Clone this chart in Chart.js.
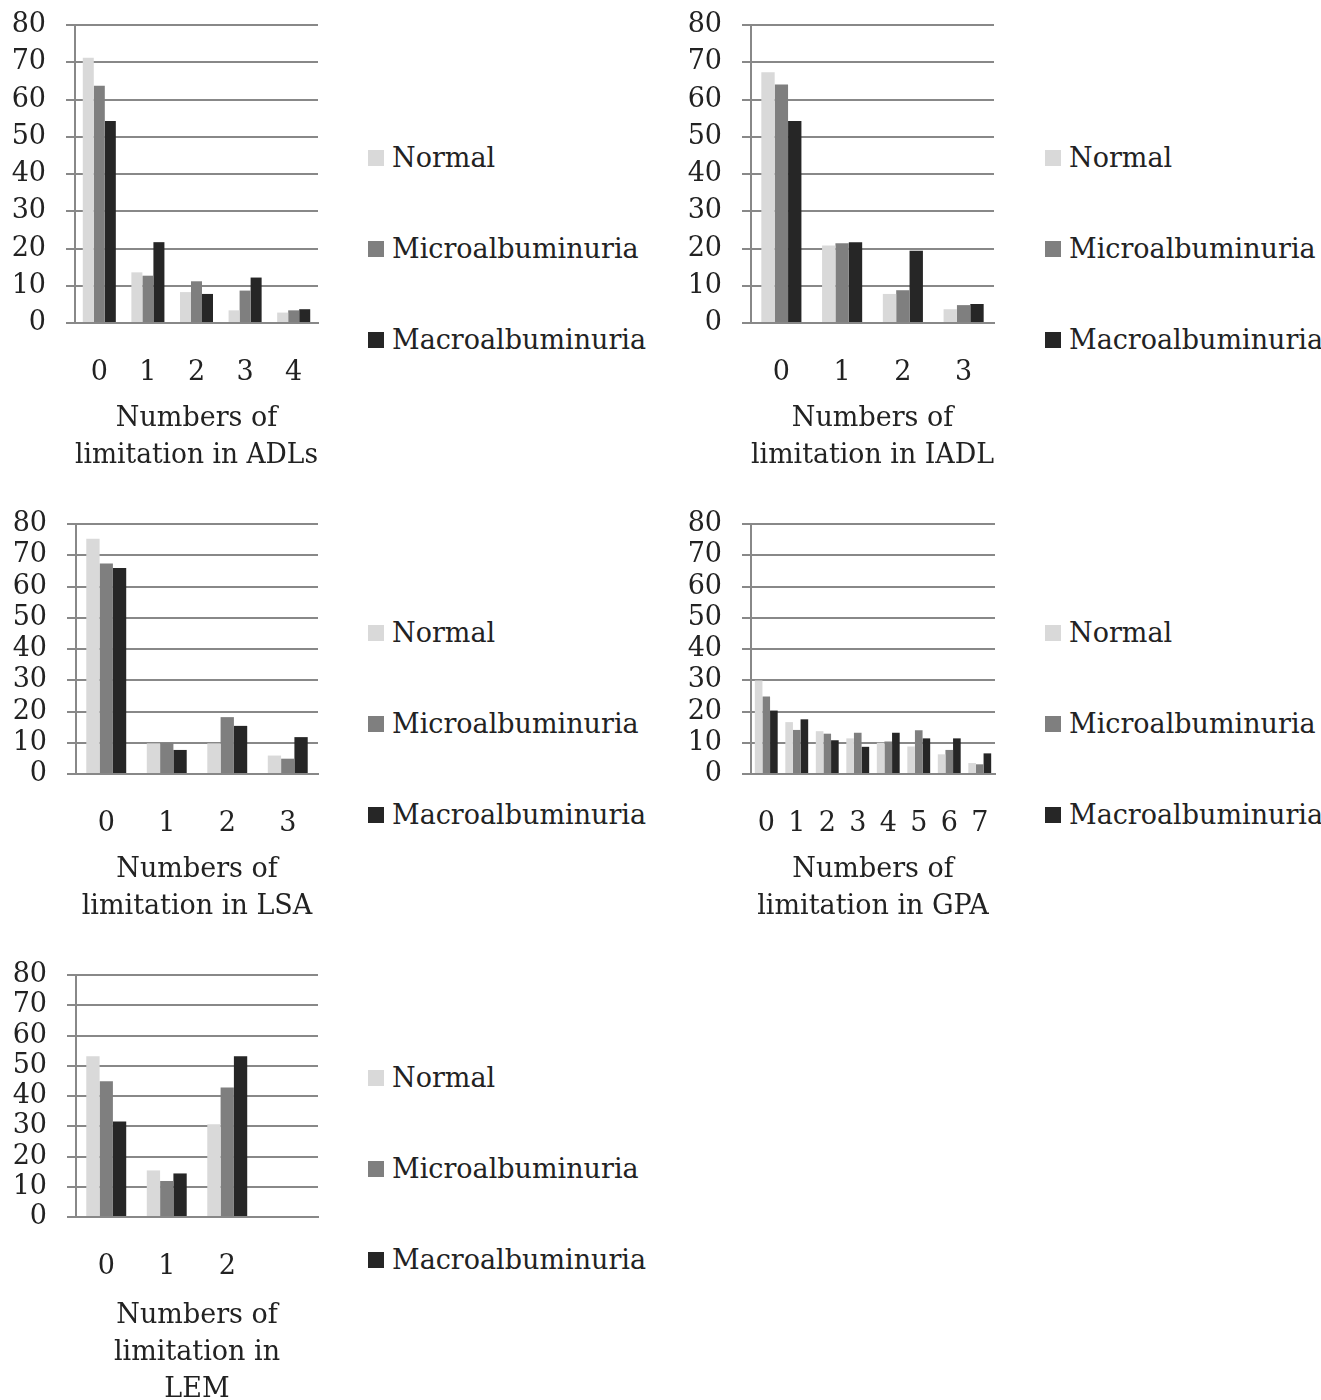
<!DOCTYPE html>
<html>
<head>
<meta charset="utf-8">
<script src="https://cdn.jsdelivr.net/npm/chart.js@4.4.1/dist/chart.umd.min.js"></script>
<style>
    body { margin: 0; background: #fff; width: 1321px; height: 1400px; overflow: hidden; position: relative; font-family: "DejaVu Serif", serif; }
    .box { position: absolute; }
    .legend { position: absolute; color: #222; font-size: 27px; }
    .legend div { height: 91px; display: flex; align-items: center; white-space: nowrap; }
    .legend .sw { width: 16px; height: 16px; margin-right: 8px; display: inline-block; }
</style>
</head>
<body>
<div class="box" style="left:0px;top:0px;width:340px;height:480px"><canvas id="adl"></canvas></div>
<div class="box" style="left:676px;top:0px;width:340px;height:480px"><canvas id="iadl"></canvas></div>
<div class="box" style="left:0px;top:500px;width:340px;height:431px"><canvas id="lsa"></canvas></div>
<div class="box" style="left:676px;top:500px;width:340px;height:431px"><canvas id="gpa"></canvas></div>
<div class="box" style="left:0px;top:950px;width:340px;height:460px"><canvas id="lem"></canvas></div>

<div class="legend" id="lg-adl" style="left:368px;top:112px"></div>
<div class="legend" id="lg-iadl" style="left:1045px;top:112px"></div>
<div class="legend" id="lg-lsa" style="left:368px;top:587px"></div>
<div class="legend" id="lg-gpa" style="left:1045px;top:587px"></div>
<div class="legend" id="lg-lem" style="left:368px;top:1032px"></div>

<script>
const seriesNames = ["Normal", "Microalbuminuria", "Macroalbuminuria"];

const adlLabels = ["0", "1", "2", "3", "4"];
const adlNormal = [71.2, 13.6, 8.3, 3.4, 2.8];
const adlMicro = [63.7, 12.7, 11.2, 8.7, 3.4];
const adlMacro = [54.2, 21.7, 7.8, 12.2, 3.7];

const iadlLabels = ["0", "1", "2", "3"];
const iadlNormal = [67.3, 20.8, 7.8, 3.7];
const iadlMicro = [64.0, 21.4, 8.8, 4.8];
const iadlMacro = [54.2, 21.7, 19.4, 5.1];

const lsaLabels = ["0", "1", "2", "3"];
const lsaNormal = [75.3, 9.8, 9.8, 5.9];
const lsaMicro = [67.4, 10.0, 18.2, 4.9];
const lsaMacro = [65.9, 7.7, 15.4, 11.8];

const gpaLabels = ["0", "1", "2", "3", "4", "5", "6", "7"];
const gpaNormal = [29.9, 16.6, 13.7, 11.4, 10.0, 8.8, 6.3, 3.5];
const gpaMicro = [24.8, 14.1, 12.9, 13.2, 10.4, 14.0, 7.7, 3.1];
const gpaMacro = [20.3, 17.5, 10.8, 8.7, 13.2, 11.4, 11.4, 6.6];

// last slot is empty in the original
const lemLabels = ["0", "1", "2", ""];
const lemNormal = [53.1, 15.4, 30.7];
const lemMicro = [44.9, 11.9, 42.8];
const lemMacro = [31.6, 14.4, 53.1];

const seriesColors = ["#d9d9d9", "#7f7f7f", "#262626"];
const fam = "'DejaVu Serif', serif";

function makeChart(id, labels, values, title, barFrac, pad, xh) {
    new Chart(document.getElementById(id), {
        type: "bar",
        data: {
            labels: labels,
            datasets: values.map(function (v, i) {
                return {
                    label: seriesNames[i],
                    data: v,
                    backgroundColor: seriesColors[i],
                    categoryPercentage: barFrac,
                    barPercentage: 1,
                };
            }),
        },
        options: {
            responsive: true,
            maintainAspectRatio: false,
            animation: false,
            layout: { padding: pad },
            plugins: { legend: { display: false }, tooltip: { enabled: false } },
            scales: {
                x: {
                    grid: { display: false, drawTicks: false, tickLength: 0 },
                    border: { color: "#888", width: 2 },
                    ticks: { autoSkip: false, maxRotation: 0, color: "#222", padding: 34, font: { family: fam, size: 27 } },
                    title: {
                        display: true,
                        text: title,
                        color: "#222",
                        font: { family: fam, size: 27, lineHeight: 1.37 },
                        padding: { top: 11, bottom: 0 },
                    },
                    afterFit: function (s) {
                        s.height = xh;
                        s.paddingLeft = 0;
                        s.paddingRight = 0;
                    },
                },
                y: {
                    min: 0,
                    max: 80,
                    ticks: { autoSkip: false, stepSize: 10, color: "#222", padding: 20, font: { family: fam, size: 27 } },
                    grid: { color: "#888", lineWidth: 2, tickLength: 9 },
                    border: { color: "#888", width: 2 },
                    afterFit: function (s) {
                        s.width = 63;
                        s.paddingTop = 0;
                        s.paddingBottom = 0;
                    },
                },
            },
        },
    });

    const lg = document.getElementById("lg-" + id);
    seriesNames.forEach(function (name, i) {
        const row = document.createElement("div");
        const sw = document.createElement("span");
        sw.className = "sw";
        sw.style.background = seriesColors[i];
        row.appendChild(sw);
        row.appendChild(document.createTextNode(name));
        lg.appendChild(row);
    });
}

document.addEventListener("DOMContentLoaded", function () {
    makeChart("adl", adlLabels, [adlNormal, adlMicro, adlMacro],
        ["Numbers of", "limitation in ADLs"], 0.68, { left: 12, right: 22, top: 25, bottom: 6 }, 151);
    makeChart("iadl", iadlLabels, [iadlNormal, iadlMicro, iadlMacro],
        ["Numbers of", "limitation in IADL"], 0.66, { left: 12, right: 22, top: 25, bottom: 6 }, 151);
    makeChart("lsa", lsaLabels, [lsaNormal, lsaMicro, lsaMacro],
        ["Numbers of", "limitation in LSA"], 0.66, { left: 13, right: 22, top: 24, bottom: 6 }, 151);
    makeChart("gpa", gpaLabels, [gpaNormal, gpaMicro, gpaMacro],
        ["Numbers of", "limitation in GPA"], 0.75, { left: 12, right: 21, top: 24, bottom: 6 }, 151);
    makeChart("lem", lemLabels, [lemNormal, lemMicro, lemMacro],
        ["Numbers of", "limitation in", "LEM"], 0.66, { left: 13, right: 22, top: 25, bottom: 2 }, 191);
});
</script>
</body>
</html>
